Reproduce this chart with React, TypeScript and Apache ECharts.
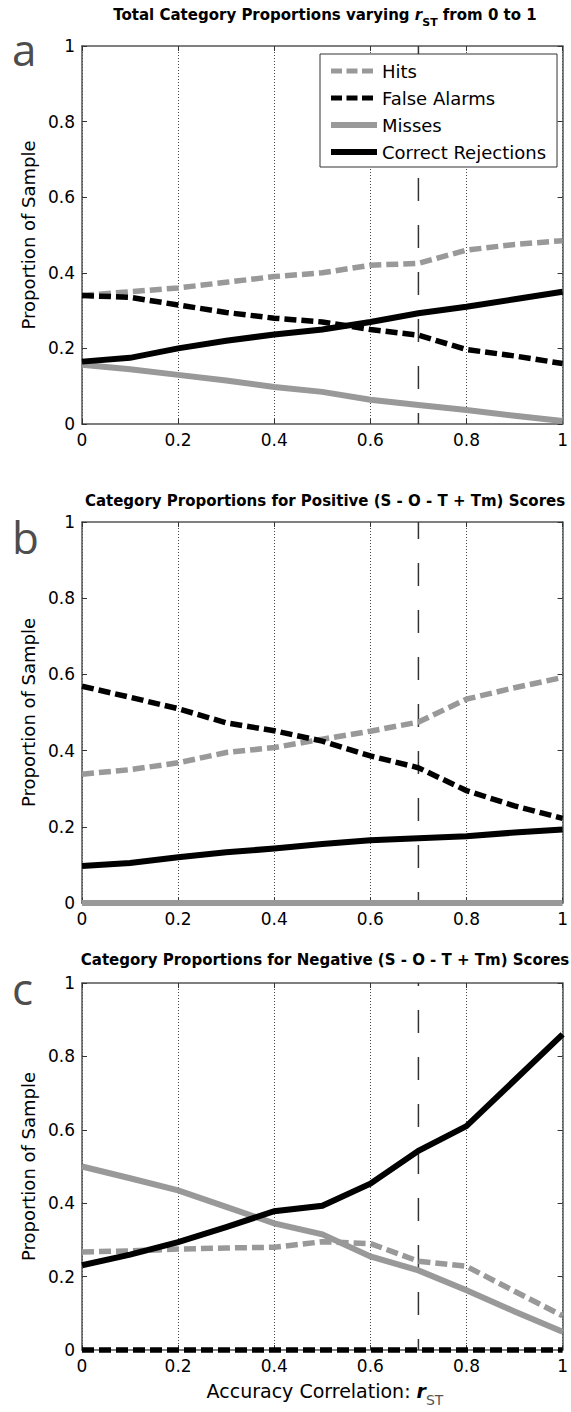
import React, { useEffect, useRef } from "react";
import * as echarts from "echarts";

// Accuracy correlation r_ST values
const xs = [0, 0.1, 0.2, 0.3, 0.4, 0.5, 0.6, 0.7, 0.8, 0.9, 1];
const seriesNames = ["Hits", "False Alarms", "Misses", "Correct Rejections"];
const panelTitles = [
  "Total Category Proportions varying {r|r}{sub|ST} from 0 to 1",
  "Category Proportions for Positive (S - O - T + Tm) Scores",
  "Category Proportions for Negative (S - O - T + Tm) Scores",
];
const panelLetters = ["a", "b", "c"];
const criterionX = 0.7;

// Panel a: total
const hitsA = [0.34, 0.35, 0.36, 0.375, 0.39, 0.4, 0.42, 0.425, 0.46, 0.475, 0.485];
const faA = [0.34, 0.335, 0.315, 0.295, 0.28, 0.27, 0.25, 0.235, 0.197, 0.18, 0.16];
const missA = [0.157, 0.145, 0.13, 0.115, 0.098, 0.085, 0.064, 0.05, 0.037, 0.022, 0.008];
const crA = [0.165, 0.175, 0.2, 0.22, 0.237, 0.25, 0.27, 0.293, 0.31, 0.33, 0.35];

// Panel b: positive scores
const hitsB = [0.338, 0.35, 0.368, 0.395, 0.408, 0.43, 0.451, 0.475, 0.535, 0.565, 0.592];
const faB = [0.569, 0.54, 0.51, 0.473, 0.452, 0.425, 0.386, 0.355, 0.295, 0.255, 0.222];
const missB = [0, 0, 0, 0, 0, 0, 0, 0, 0, 0, 0];
const crB = [0.097, 0.105, 0.12, 0.133, 0.143, 0.155, 0.165, 0.17, 0.175, 0.185, 0.193];

// Panel c: negative scores
const hitsC = [0.267, 0.27, 0.275, 0.278, 0.28, 0.295, 0.29, 0.242, 0.228, 0.16, 0.093];
const faC = [0, 0, 0, 0, 0, 0, 0, 0, 0, 0, 0];
const missC = [0.5, 0.468, 0.435, 0.39, 0.345, 0.315, 0.255, 0.217, 0.163, 0.105, 0.05];
const crC = [0.231, 0.26, 0.294, 0.335, 0.378, 0.393, 0.453, 0.543, 0.61, 0.735, 0.86];

const panels = [
  [hitsA, faA, missA, crA],
  [hitsB, faB, missB, crB],
  [hitsC, faC, missC, crC],
];

const FONT = "DejaVu Sans";
const GRAY = "#999999";
const BLACK = "#000000";

const gridBoxes = [
  { left: 82, top: 46, width: 486, height: 378 },
  { left: 82, top: 522, width: 486, height: 381 },
  { left: 82, top: 983, width: 486, height: 367 },
];
const titleY = [15, 501, 960];
const letterY = [49, 537, 988];

const lineStyles = [
  { color: GRAY, width: 5.5, type: [12, 5] },
  { color: BLACK, width: 5.5, type: [12, 5] },
  { color: GRAY, width: 6, type: "solid" },
  { color: BLACK, width: 6, type: "solid" },
];
const legendLineStyles = [
  { color: GRAY, width: 5, type: [11, 4.5] },
  { color: BLACK, width: 5, type: [11, 4.5] },
  { color: GRAY, width: 6, type: "solid" },
  { color: BLACK, width: 6, type: "solid" },
];

export default function App() {
  const ref = useRef<HTMLDivElement>(null);

  useEffect(() => {
    if (!ref.current) return;
    const chart = echarts.init(ref.current, null, { renderer: "svg" });

    const axisLine = { show: true, onZero: false, lineStyle: { color: "#555", width: 1.5 } };
    const axisTick = { show: true, inside: true, length: 5, lineStyle: { color: "#333", width: 1 } };

    const xAxis: any[] = [];
    const yAxis: any[] = [];
    const series: any[] = [];

    gridBoxes.forEach((_, i) => {
      xAxis.push({
        type: "value", gridIndex: i, min: 0, max: 1, interval: 0.2, position: "bottom",
        axisLine, axisTick,
        axisLabel: { fontSize: 17, fontFamily: FONT, color: "#000", margin: 7 },
        splitLine: { show: true, lineStyle: { type: [1, 2], color: "#444", width: 1 } },
      });
      xAxis.push({
        type: "value", gridIndex: i, min: 0, max: 1, interval: 0.2, position: "top",
        axisLine, axisTick, axisLabel: { show: false }, splitLine: { show: false },
      });
      yAxis.push({
        type: "value", gridIndex: i, min: 0, max: 1, interval: 0.2, position: "left",
        axisLine, axisTick,
        axisLabel: { fontSize: 17, fontFamily: FONT, color: "#000", margin: 7 },
        splitLine: { show: false },
        name: "Proportion of Sample", nameLocation: "middle", nameGap: 43,
        nameTextStyle: { fontSize: 18, fontFamily: FONT, color: "#000" },
      });
      yAxis.push({
        type: "value", gridIndex: i, min: 0, max: 1, interval: 0.2, position: "right",
        axisLine, axisTick, axisLabel: { show: false }, splitLine: { show: false },
      });

      series.push({
        type: "line", name: "criterion", xAxisIndex: 2 * i, yAxisIndex: 2 * i,
        data: [[criterionX, 0], [criterionX, 1]], symbol: "none", silent: true,
        lineStyle: { color: "#333", width: 1.5, type: [23, 24], dashOffset: 12 },
        z: 1,
      });
      panels[i].forEach((vals, k) => {
        series.push({
          type: "line", name: seriesNames[k], xAxisIndex: 2 * i, yAxisIndex: 2 * i,
          data: xs.map((x, j) => [x, vals[j]]),
          symbol: "none", clip: false, silent: true,
          lineStyle: { ...lineStyles[k], cap: "butt", join: "miter" },
          itemStyle: { color: lineStyles[k].color },
          z: 2 + k,
        });
      });
    });

    const graphic: any[] = [];
    panelTitles.forEach((t, i) => {
      graphic.push({
        type: "text", x: 325, y: titleY[i],
        style: {
          text: t, fontSize: 15, fontWeight: "bold", fontFamily: FONT, fill: "#000",
          align: "center", verticalAlign: "middle",
          rich: {
            r: { fontSize: 15, fontWeight: "bold", fontStyle: "italic", fontFamily: FONT, fill: "#000" },
            sub: { fontSize: 11, fontWeight: "bold", fontFamily: FONT, fill: "#000", padding: [14, 0, 0, 0] },
          },
        },
      });
      graphic.push({
        type: "text", x: 12, y: letterY[i],
        style: {
          text: panelLetters[i], fontSize: 44, fontFamily: "Open Sans", fill: "#4d4d4d",
          align: "left", verticalAlign: "middle",
        },
      });
    });
    graphic.push({
      type: "text", x: 325, y: 1391,
      style: {
        text: "Accuracy Correlation: {r|r}{sub|ST}", fontSize: 19, fontFamily: FONT, fill: "#000",
        align: "center", verticalAlign: "middle",
        rich: {
          r: { fontSize: 19, fontWeight: "bold", fontStyle: "italic", fontFamily: FONT, fill: "#000" },
          sub: { fontSize: 14, fontFamily: FONT, fill: "#555", padding: [18, 0, 0, 0] },
        },
      },
    });

    chart.setOption({
      animation: false,
      backgroundColor: "#fff",
      grid: gridBoxes.map((g) => ({ ...g, containLabel: false })),
      xAxis,
      yAxis,
      series,
      legend: {
        data: seriesNames.map((name, k) => ({
          name,
          lineStyle: { ...legendLineStyles[k], cap: "butt" },
          itemStyle: { opacity: 0, borderWidth: 0 },
        })),
        orient: "vertical", left: 320, top: 54,
        itemWidth: 46, itemHeight: 14, itemGap: 9,
        padding: [8, 11, 6, 8],
        borderColor: "#333", borderWidth: 1, backgroundColor: "#fff",
        selectedMode: false,
        itemStyle: { opacity: 0, borderWidth: 0 },
        textStyle: { fontSize: 18, fontFamily: FONT, color: "#000" },
      },
      graphic,
    });

    return () => chart.dispose();
  }, []);

  return (
    <div
      ref={ref}
      style={{ position: "absolute", left: 0, top: 0, width: 571, height: 1412, background: "#fff" }}
    />
  );
}
